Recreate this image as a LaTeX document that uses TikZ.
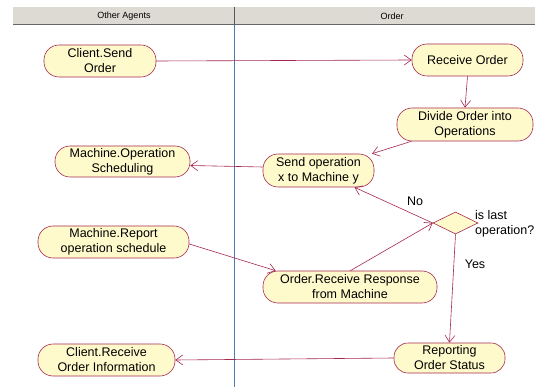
\documentclass[tikz,border=0pt]{standalone}
\usepackage{fontspec}
\setmainfont{Liberation Sans}
\usetikzlibrary{arrows.meta,shapes.geometric}
\definecolor{edgecol}{RGB}{165,40,80}
\definecolor{nodefill}{RGB}{255,250,204}
\definecolor{headfill}{RGB}{220,218,210}
\definecolor{lanecol}{RGB}{80,120,176}
\begin{document}
\begin{tikzpicture}[x=1pt,y=-1pt,
  act/.style={draw=edgecol,fill=nodefill,line width=0.6pt,rounded corners=15pt,
    align=center,inner sep=0pt,font=\fontsize{12.5}{15}\selectfont},
  dec/.style={draw=edgecol,fill=nodefill,line width=0.6pt,diamond,inner sep=0pt},
  flow/.style={draw=edgecol,line width=0.6pt,-{Straight Barb[length=7pt,width=10pt]}},
  lbl/.style={font=\fontsize{12.5}{15}\selectfont,inner sep=0pt},
  headtxt/.style={font=\fontsize{9}{11}\selectfont,inner sep=0pt}]
\useasboundingbox (0,0) rectangle (535,387);
\fill[white] (0,0) rectangle (535,387);
% header
\fill[headfill] (13,7) rectangle (535,25);
\draw[gray!80!black,line width=1pt] (13,25) -- (535,25);
\draw[gray!70!black,line width=0.6pt] (234,7) -- (234,25);
\node[headtxt] (h1) at (124,16) {Other Agents};
\node[headtxt] (h2) at (392,16) {Order};
% swimlane line
\draw[lanecol,line width=0.6pt] (234,25) -- (234,387);
% activities
\node[act,minimum width=112pt,minimum height=32pt] (cs) at (100,61) {Client.Send\\Order};
\node[act,minimum width=135pt,minimum height=31pt] (mos) at (122.5,161.5) {Machine.Operation\\Scheduling};
\node[act,minimum width=151pt,minimum height=32pt] (mrs) at (113.5,242) {Machine.Report\\operation schedule};
\node[act,minimum width=137pt,minimum height=32pt] (cri) at (106.5,360) {Client.Receive\\Order Information};
\node[act,minimum width=111pt,minimum height=32pt] (ro) at (467.5,60) {Receive Order};
\node[act,minimum width=136pt,minimum height=33pt] (div) at (465,124.5) {Divide Order into\\Operations};
\node[act,minimum width=111pt,minimum height=33pt] (send) at (318.5,170.5) {Send operation\\x to Machine y};
\node[act,minimum width=174pt,minimum height=32pt] (orr) at (350,287) {Order.Receive Response\\from Machine};
\node[act,minimum width=111pt,minimum height=30pt,rounded corners=14pt] (rep) at (449.5,358) {Reporting\\Order Status};
\node[dec,minimum width=45pt,minimum height=22pt] (dia) at (455.5,223) {};
\node[lbl,anchor=west,align=left] (q) at (475,224) {is last\\operation?};
\node[lbl] (no) at (415,201) {No};
\node[lbl] (yes) at (475,264) {Yes};
% flows
\draw[flow] (cs.east) -- (ro.west);
\draw[flow] (ro.south) -- (div.north);
\draw[flow] (div) -- (send);
\draw[flow] ([yshift=3.5pt]send.west) -- ([yshift=-4pt]mos.east);
\draw[flow] (dia.west) -- (send.-25);
\draw[flow] ([yshift=-2pt]mrs.east) -- ([xshift=13pt]orr.north west);
\draw[flow] ([xshift=-87pt]orr.north east) -- (dia.west);
\draw[flow] (dia.south) -- (rep.north);
\draw[flow] (rep.west) -- (cri.east);
\end{tikzpicture}
\end{document}
